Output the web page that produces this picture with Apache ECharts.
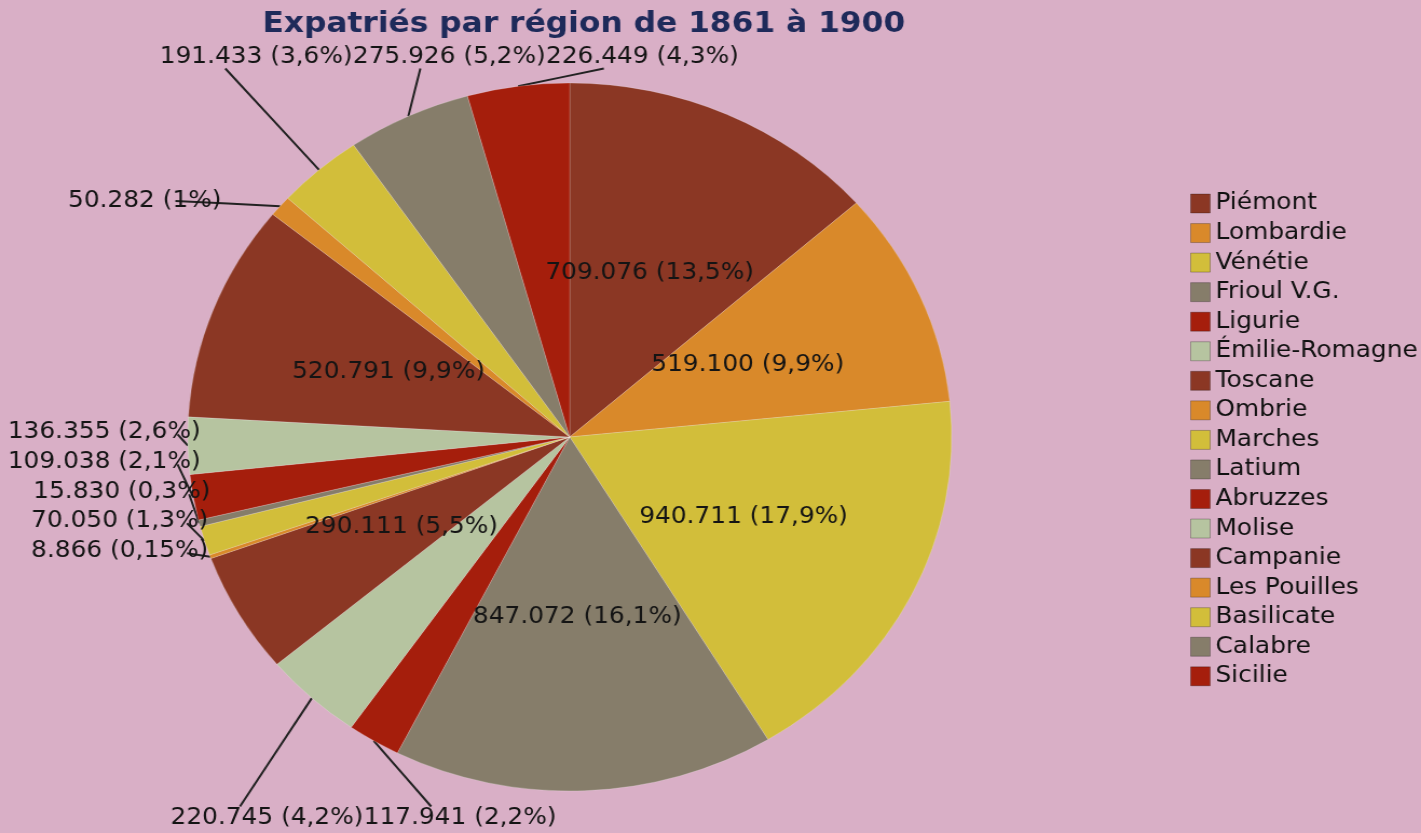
<!DOCTYPE html>
<html>
<head>
<meta charset="utf-8">
<title>Expatriés par région de 1861 à 1900</title>
<script src="https://cdn.jsdelivr.net/npm/echarts@6.0.0/dist/echarts.min.js"></script>
<style>
    html, body { margin: 0; padding: 0; background: #d9afc6; overflow: hidden; }
    /* l'image d'origine est étirée en largeur : on reproduit l'étirement */
    #main { width: 1317px; height: 833px; transform: scaleX(1.079); transform-origin: 0 0; }
</style>
</head>
<body>
<div id="main"></div>
<script>
// données
var regions = ['Piémont', 'Lombardie', 'Vénétie', 'Frioul V.G.', 'Ligurie', 'Émilie-Romagne',
    'Toscane', 'Ombrie', 'Marches', 'Latium', 'Abruzzes', 'Molise', 'Campanie',
    'Les Pouilles', 'Basilicate', 'Calabre', 'Sicilie'];
var expatries = [709076, 519100, 940711, 847072, 117941, 220745,
    290111, 8866, 70050, 15830, 109038, 136355, 520791,
    50282, 191433, 275926, 226449];
var parts = [13.5, 9.9, 17.9, 16.1, 2.2, 4.2,
    5.5, 0.15, 1.3, 0.3, 2.1, 2.6, 9.9,
    1, 3.6, 5.2, 4.3];

var palette = ['#8b3724', '#d9892a', '#d2be3a', '#867d6a', '#a51e0c', '#b6c4a0'];

// étiquettes placées hors du camembert (coordonnées avant étirement)
var outer = {
    'Ligurie':        { x: 337, y: 818, align: 'left',  end: [0.35, 0] },
    'Émilie-Romagne': { x: 158, y: 818, align: 'left',  end: [0.36, 0] },
    'Ombrie':         { x: 193, y: 551, align: 'right', end: [0.88, 0.6] },
    'Marches':        { x: 193, y: 521, align: 'right', end: [0.88, 0.6] },
    'Latium':         { x: 195, y: 492, align: 'right', end: [0.88, 0.6] },
    'Abruzzes':       { x: 186, y: 462, align: 'right', end: [0.88, 0.6] },
    'Molise':         { x: 186, y: 432, align: 'right', end: [0.88, 0.6] },
    'Les Pouilles':   { x: 63,  y: 201, align: 'left',  end: [0.7, 0.5] },
    'Basilicate':     { x: 148, y: 57,  align: 'left',  end: [0.34, 1] },
    'Calabre':        { x: 327, y: 57,  align: 'left',  end: [0.35, 1] },
    'Sicilie':        { x: 506, y: 57,  align: 'left',  end: [0.3, 1] }
};

function milliers(v) {
    return String(v).replace(/\B(?=(\d{3})+(?!\d))/g, '.');
}

var pieData = regions.map(function (nom, i) {
    var item = { name: nom, value: expatries[i] };
    if (outer[nom]) {
        item.label = { position: 'outside' };
        item.labelLine = { show: true };
    } else {
        item.label = { position: 'inside' };
        item.labelLine = { show: false };
    }
    return item;
});

var myChart = echarts.init(document.getElementById('main'));

var option = {
    backgroundColor: '#d9afc6',
    animation: false,
    color: palette,
    title: {
        text: 'Expatriés par région de 1861 à 1900',
        left: 536,
        top: 5,
        textAlign: 'center',
        textStyle: {
            fontFamily: 'DejaVu Sans',
            fontWeight: 'bold',
            fontSize: 29,
            color: '#1e2a5a'
        }
    },
    legend: {
        orient: 'vertical',
        left: 1098,
        top: 187,
        itemWidth: 18,
        itemHeight: 19,
        itemGap: 6.55,
        icon: 'rect',
        itemStyle: { borderColor: 'rgba(0,0,0,0.25)', borderWidth: 1 },
        textStyle: {
            fontFamily: 'DejaVu Sans',
            fontSize: 23,
            lineHeight: 23,
            color: '#111'
        },
        data: regions
    },
    series: [
        {
            type: 'pie',
            center: [528, 437],
            radius: 354,
            startAngle: 90,
            clockwise: true,
            avoidLabelOverlap: false,
            silent: true,
            itemStyle: { borderColor: 'rgba(255,255,255,0.2)', borderWidth: 1 },
            label: {
                fontFamily: 'DejaVu Sans',
                fontSize: 23,
                color: '#141414',
                formatter: function (p) {
                    return milliers(p.value) + ' (' + String(parts[p.dataIndex]).replace('.', ',') + '%)';
                }
            },
            labelLine: {
                length: 20,
                length2: 20,
                lineStyle: { color: '#222', width: 2 }
            },
            labelLayout: function (params) {
                var pos = outer[regions[params.dataIndex]];
                if (!pos) {
                    return {};
                }
                var w = params.labelRect.width;
                var h = params.labelRect.height;
                var left = pos.align === 'right' ? pos.x - w : pos.x;
                var top = pos.y - h / 2;
                var p0 = params.labelLinePoints ? params.labelLinePoints[0] : [left, top];
                var end = [left + pos.end[0] * w, top + pos.end[1] * h];
                var mid = [(p0[0] + end[0]) / 2, (p0[1] + end[1]) / 2];
                return {
                    x: pos.x,
                    y: pos.y,
                    align: pos.align,
                    verticalAlign: 'middle',
                    labelLinePoints: [p0, mid, end]
                };
            },
            data: pieData
        }
    ]
};

myChart.setOption(option);
</script>
</body>
</html>
